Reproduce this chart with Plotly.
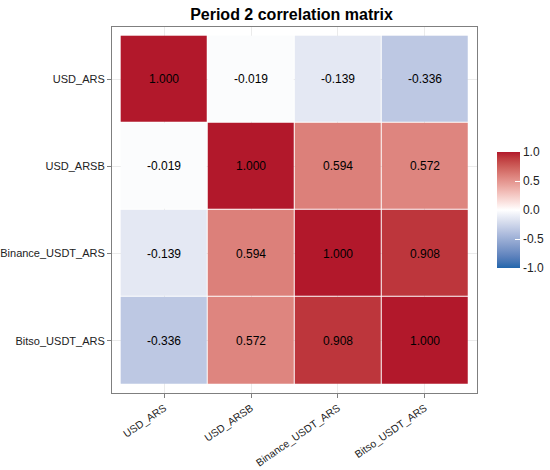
import numpy as np
import plotly.graph_objects as go

labels = ["USD_ARS", "USD_ARSB", "Binance_USDT_ARS", "Bitso_USDT_ARS"]
corr = [
    [1.000, -0.019, -0.139, -0.336],
    [-0.019, 1.000, 0.594, 0.572],
    [-0.139, 0.594, 1.000, 0.908],
    [-0.336, 0.572, 0.908, 1.000],
]
title = "Period 2 correlation matrix"


# ggplot's gradient2 blends in Lab space, so build the scale that way
def to_lab(hx):
    rgb = np.array([int(hx[i:i + 2], 16) for i in (1, 3, 5)]) / 255.0
    lin = np.where(rgb > 0.04045, ((rgb + 0.055) / 1.055) ** 2.4, rgb / 12.92)
    m = np.array([[0.4124, 0.3576, 0.1805],
                  [0.2126, 0.7152, 0.0722],
                  [0.0193, 0.1192, 0.9505]])
    xyz = m @ lin / np.array([0.95047, 1.0, 1.08883])
    f = np.where(xyz > 0.008856, np.cbrt(xyz), 7.787 * xyz + 16 / 116)
    return np.array([116 * f[1] - 16, 500 * (f[0] - f[1]), 200 * (f[1] - f[2])])


def to_rgb(lab):
    fy = (lab[0] + 16) / 116
    f = np.array([fy + lab[1] / 500, fy, fy - lab[2] / 200])
    xyz = np.where(f ** 3 > 0.008856, f ** 3, (f - 16 / 116) / 7.787)
    xyz = xyz * np.array([0.95047, 1.0, 1.08883])
    m = np.array([[3.2406, -1.5372, -0.4986],
                  [-0.9689, 1.8758, 0.0415],
                  [0.0557, -0.2040, 1.0570]])
    lin = m @ xyz
    rgb = np.where(lin > 0.0031308, 1.055 * np.abs(lin) ** (1 / 2.4) - 0.055, 12.92 * lin)
    rgb = np.clip(rgb, 0, 1) * 255
    return "rgb(%d,%d,%d)" % tuple(np.round(rgb))


low, mid, high = to_lab("#2166AC"), to_lab("#FFFFFF"), to_lab("#B2182B")
scale = []
for t in np.linspace(0, 1, 21):
    if t <= 0.5:
        c = low + (mid - low) * (t / 0.5)
    else:
        c = mid + (high - mid) * ((t - 0.5) / 0.5)
    scale.append([float(t), to_rgb(c)])

text = [["%.3f" % v for v in row] for row in corr]
FONT = "Liberation Sans, Arial"

fig = go.Figure()
fig.add_trace(go.Heatmap(
    z=corr, x=labels, y=labels,
    zmin=-1, zmax=1, colorscale=scale,
    xgap=1, ygap=1,
    text=text, texttemplate="%{text}",
    textfont=dict(family=FONT, size=12, color="black"),
    colorbar=dict(
        thickness=23, len=116, lenmode="pixels",
        x=1.055, xanchor="left", xpad=0, ypad=0,
        y=0.5, yanchor="middle",
        outlinewidth=0,
        tickvals=[1, 0.5, 0, -0.5, -1],
        ticktext=["1.0", "0.5", "0.0", "-0.5", "-1.0"],
        ticks="inside", ticklen=5, tickcolor="white",
        tickfont=dict(family=FONT, size=12, color="#222222"),
    ),
))

fig.update_layout(
    width=550, height=470,
    margin=dict(l=112, r=73, t=27, b=77, autoexpand=False),
    paper_bgcolor="white", plot_bgcolor="white",
    title=dict(text="<b>" + title + "</b>", x=0.53, xanchor="center",
               y=0.97, yanchor="middle",
               font=dict(family=FONT, size=16, color="black")),
    font=dict(family=FONT),
)
fig.update_xaxes(
    range=[-0.6, 3.6], tickangle=-35, showgrid=True, gridcolor="#EBEBEB",
    showline=True, linecolor="#7F7F7F", linewidth=1, mirror=True,
    ticks="outside", ticklen=4, tickcolor="#7F7F7F", automargin=False,
    tickfont=dict(family=FONT, size=10.5, color="#222222"), zeroline=False,
)
fig.update_yaxes(
    range=[3.6, -0.6], showgrid=True, gridcolor="#EBEBEB",
    showline=True, linecolor="#7F7F7F", linewidth=1, mirror=True,
    ticks="outside", ticklen=4, tickcolor="#7F7F7F", automargin=False,
    tickfont=dict(family=FONT, size=11, color="#222222"), zeroline=False,
)

# drop the default 8px page margin so the figure sits at the window corner
fig.write_html("out.html", config={"displayModeBar": False},
               post_script="document.body.style.margin = '0';")
